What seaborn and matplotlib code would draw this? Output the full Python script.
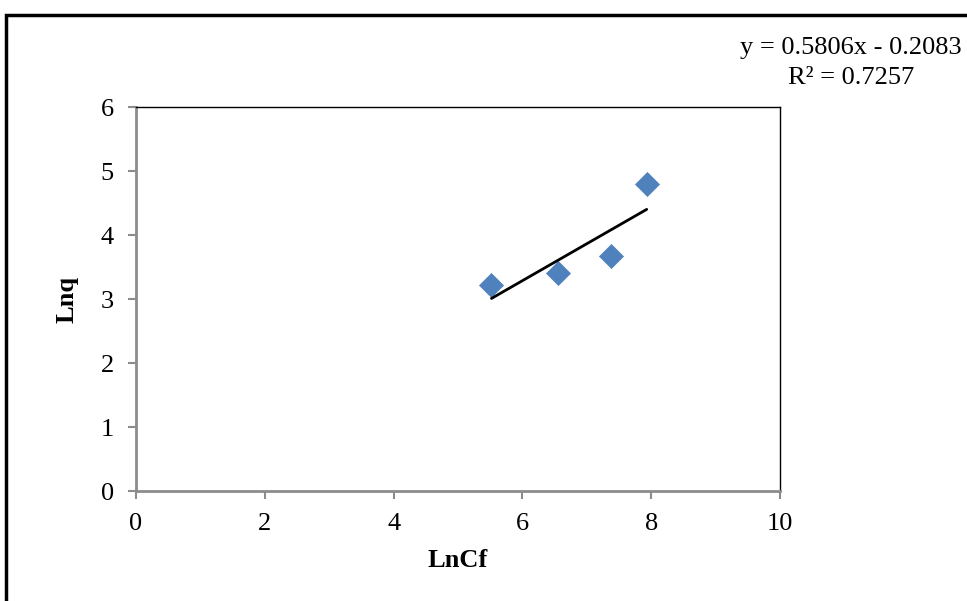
import numpy as np
import pandas as pd
import matplotlib
matplotlib.use("Agg")
import matplotlib.pyplot as plt
import seaborn as sns
from matplotlib.patches import Rectangle

# === DADOS ===
ln_cf = [5.52, 6.55, 7.37, 7.93]
ln_q = [3.22, 3.40, 3.67, 4.80]
x_ticks = [0, 2, 4, 6, 8, 10]
y_ticks = [0, 1, 2, 3, 4, 5, 6]

df = pd.DataFrame({"LnCf": ln_cf, "Lnq": ln_q})

# === ESTILO ===
sns.set_theme(style="white")
plt.rcParams["font.family"] = ["Liberation Serif", "DejaVu Serif"]
plt.rcParams["text.color"] = "black"
plt.rcParams["axes.labelcolor"] = "black"
plt.rcParams["xtick.color"] = "black"
plt.rcParams["ytick.color"] = "black"

fig = plt.figure(figsize=(9.67, 6.01), dpi=100)
ax = fig.add_axes([136 / 967, 1 - 491 / 601, (780 - 136) / 967, (491 - 107) / 601])

# pontos
sns.scatterplot(data=df, x="LnCf", y="Lnq", marker="D", s=150, color="#4F81BD",
                edgecolor="#4F81BD", linewidth=0.5, ax=ax, zorder=3)

# linha de tendência (regressão linear)
slope, intercept = np.polyfit(df["LnCf"], df["Lnq"], 1)
xs = np.array([df["LnCf"].min(), df["LnCf"].max()])
sns.lineplot(x=xs, y=slope * xs + intercept, color="black", linewidth=2, ax=ax, zorder=4)

ax.set_xlim(0, 10)
ax.set_ylim(0, 6)
ax.set_xticks(x_ticks)
ax.set_yticks(y_ticks)
ax.tick_params(axis="both", which="both", direction="out", length=6, width=1.5,
               color="#8C8C8C", labelcolor="black", labelsize=19,
               bottom=True, left=True)
ax.tick_params(axis="y", pad=10)
ax.tick_params(axis="x", pad=10)

for s in ["left", "bottom"]:
    ax.spines[s].set_color("#8C8C8C")
    ax.spines[s].set_linewidth(2)
for s in ["top", "right"]:
    ax.spines[s].set_color("black")
    ax.spines[s].set_linewidth(1)

ax.set_xlabel("LnCf", fontsize=19, fontweight="bold", labelpad=10, color="black")
ax.set_ylabel("Lnq", fontsize=19, fontweight="bold", labelpad=16, color="black")

# equação
fig.text(851 / 967, 1 - 63 / 601, "y = 0.5806x - 0.2083\nR² = 0.7257",
         ha="center", va="center", fontsize=19, linespacing=1.42, color="black")

# moldura externa
fig.patches.append(Rectangle((6 / 967, -0.05), 1.0, 1 - 15 / 601 + 0.05,
                             transform=fig.transFigure, fill=False,
                             edgecolor="black", linewidth=2.5, clip_on=False))

fig.savefig("out.png", dpi=100)
